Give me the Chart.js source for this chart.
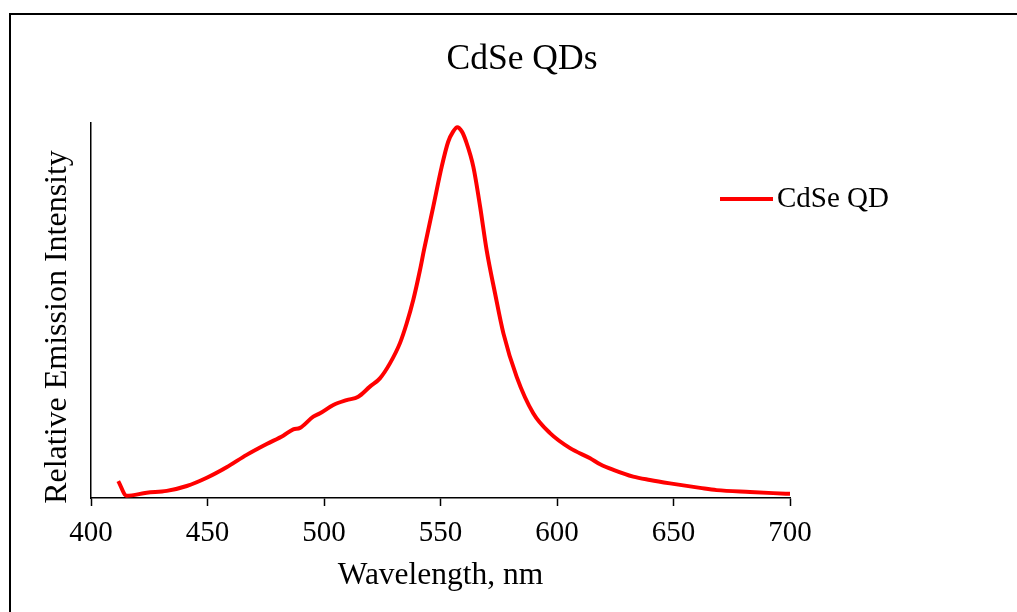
<!DOCTYPE html>
<html>
<head>
<meta charset="utf-8">
<script src="https://cdn.jsdelivr.net/npm/chart.js@4.4.1/dist/chart.umd.min.js"></script>
<style>
  body { margin: 0; background: #fff; }
  canvas { display: block; }
</style>
</head>
<body>
<canvas id="qdChart" width="1017" height="612"></canvas>
<script>
// wavelength (nm) and relative emission
const wavelengths = [
  411.7, 415.3, 423.9, 432.5, 441.1, 449.7, 458.2, 466.8, 475.4, 482.5,
  486.8, 489.7, 495.4, 498.3, 504.0, 509.7, 514.7, 519.7, 524.0, 528.3,
  532.6, 535.5, 538.3, 541.2, 542.9, 546.9, 550.5, 553.3, 555.4, 557.2,
  559.2, 560.9, 564.1, 567.0, 569.8, 573.4, 577.0, 582.7, 589.8, 597.0,
  605.6, 614.2, 618.5, 624.2, 632.7, 639.9, 648.5, 661.4, 668.5, 682.8,
  692.8, 700.7
];
const intensity = [
  0.045, 0.006, 0.014, 0.019, 0.032, 0.054, 0.082, 0.115, 0.144, 0.166,
  0.183, 0.187, 0.217, 0.226, 0.248, 0.261, 0.270, 0.297, 0.319, 0.359,
  0.413, 0.466, 0.528, 0.608, 0.661, 0.777, 0.883, 0.950, 0.977, 0.989,
  0.977, 0.952, 0.883, 0.777, 0.661, 0.546, 0.439, 0.323, 0.226, 0.173,
  0.133, 0.106, 0.090, 0.075, 0.057, 0.048, 0.039, 0.027, 0.021, 0.016,
  0.013, 0.011
];
const xTicks = [400, 450, 500, 550, 600, 650, 700];
const seriesName = "CdSe QD";
const chartTitle = "CdSe QDs";
const xTitle = "Wavelength, nm";
const yTitle = "Relative Emission Intensity";

const serif = "'Liberation Serif', 'Times New Roman', serif";

// frame, title, y title and legend drawn like the Excel original
const decorations = {
  id: "decorations",
  afterDraw(chart) {
    const ctx = chart.ctx;
    ctx.save();
    ctx.strokeStyle = "#000";
    ctx.lineWidth = 2;
    ctx.beginPath();
    ctx.moveTo(10, 612);
    ctx.lineTo(10, 14);
    ctx.lineTo(1017, 14);
    ctx.stroke();

    ctx.fillStyle = "#000";
    ctx.font = "35.5px " + serif;
    ctx.textAlign = "center";
    ctx.textBaseline = "alphabetic";
    ctx.fillText(chartTitle, 522, 69);

    ctx.save();
    ctx.translate(66, 327);
    ctx.rotate(-Math.PI / 2);
    ctx.font = "32px " + serif;
    ctx.fillText(yTitle, 0, 0);
    ctx.restore();

    ctx.strokeStyle = "#ff0000";
    ctx.lineWidth = 4;
    ctx.beginPath();
    ctx.moveTo(720, 199);
    ctx.lineTo(773, 199);
    ctx.stroke();
    ctx.font = "29px " + serif;
    ctx.textAlign = "left";
    ctx.fillText(seriesName, 777, 207);
    ctx.restore();
  }
};

new Chart(document.getElementById("qdChart"), {
  type: "line",
  data: {
    datasets: [{
      label: seriesName,
      data: wavelengths.map((w, i) => ({ x: w, y: intensity[i] })),
      borderColor: "#ff0000",
      borderWidth: 4,
      pointRadius: 0,
      fill: false,
      cubicInterpolationMode: "monotone"
    }]
  },
  options: {
    responsive: false,
    animation: false,
    layout: { padding: { left: 91, right: 227, top: 123, bottom: 0 } },
    plugins: {
      legend: { display: false },
      title: { display: false },
      tooltip: { enabled: false }
    },
    scales: {
      x: {
        type: "linear",
        min: 400,
        max: 700,
        afterBuildTicks: (scale) => { scale.ticks = xTicks.map(v => ({ value: v })); },
        afterFit: (scale) => { scale.height = 114; },
        grid: { drawOnChartArea: false, drawTicks: true, tickLength: 8, tickColor: "#000", tickWidth: 1.5 },
        border: { display: true, color: "#000", width: 1.5 },
        ticks: { color: "#000", padding: 10, maxRotation: 0, font: { family: serif, size: 29 } },
        title: {
          display: true,
          text: xTitle,
          color: "#000",
          font: { family: serif, size: 31.5 },
          padding: { top: 0, bottom: 17 }
        }
      },
      y: {
        min: 0,
        max: 1,
        afterFit: (scale) => { scale.width = 0; },
        grid: { display: false },
        border: { display: true, color: "#000", width: 1.5 },
        ticks: { display: false }
      }
    }
  },
  plugins: [decorations]
});
</script>
</body>
</html>
